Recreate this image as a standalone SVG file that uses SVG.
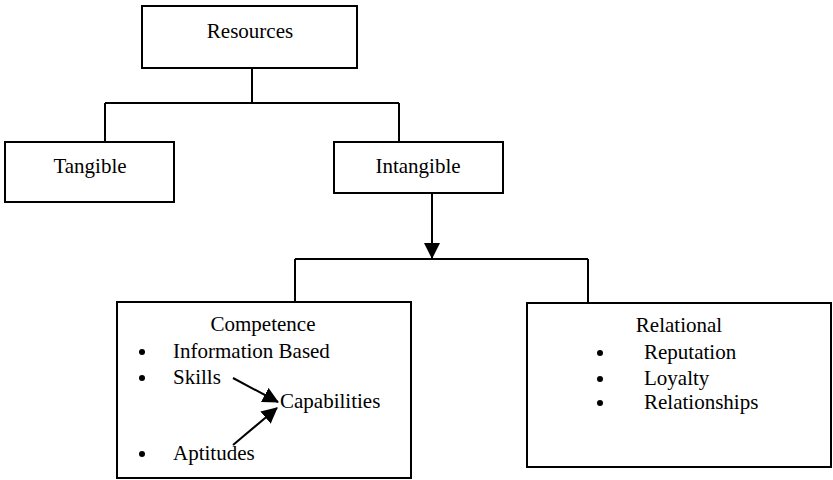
<svg xmlns="http://www.w3.org/2000/svg" width="833" height="480" viewBox="0 0 833 480">
  <style>
    .box { fill: #fff; stroke: #000; stroke-width: 2; }
    .ln { fill: none; stroke: #000; stroke-width: 2; }
    text { font-family: "Liberation Serif", "Times New Roman", serif; font-size: 21px; fill: #000; }
    .c { text-anchor: middle; }
  </style>
  <defs>
    <marker id="headBig" markerWidth="16" markerHeight="16" refX="15" refY="8" orient="auto" markerUnits="userSpaceOnUse" viewBox="0 0 16 16">
      <path d="M0,0 L16,8 L0,16 Z" fill="#000"/>
    </marker>
  </defs>

  <g id="connectors">
    <path class="ln" d="M252,68 V103 M105,103 H399 M105,103 V142 M399,103 V142"/>
    <path class="ln" d="M432,193 V258" marker-end="url(#headBig)"/>
    <path class="ln" d="M295,259 H588 M295,259 V302 M588,259 V303"/>
  </g>

  <g id="resources">
    <rect class="box" x="142" y="6" width="215" height="62"/>
    <text class="c" x="250" y="38">Resources</text>
  </g>

  <g id="tangible">
    <rect class="box" x="5" y="142" width="169" height="60"/>
    <text class="c" x="90" y="173">Tangible</text>
  </g>

  <g id="intangible">
    <rect class="box" x="334" y="142" width="169" height="51"/>
    <text class="c" x="418" y="173">Intangible</text>
  </g>

  <g id="competence">
    <rect class="box" x="117" y="302" width="294" height="176"/>
    <text class="c" x="263" y="331">Competence</text>
    <circle cx="142" cy="352" r="3"/>
    <text x="173" y="358">Information Based</text>
    <circle cx="142" cy="378" r="3"/>
    <text x="173" y="384">Skills</text>
    <text x="280" y="408">Capabilities</text>
    <circle cx="142" cy="454" r="3"/>
    <text x="173" y="460">Aptitudes</text>
    <path class="ln" d="M233,378 L278,402" marker-end="url(#headBig)"/>
    <path class="ln" d="M233,445 L277,408" marker-end="url(#headBig)"/>
  </g>

  <g id="relational">
    <rect class="box" x="527" y="303" width="304" height="164"/>
    <text class="c" x="679" y="332">Relational</text>
    <circle cx="600" cy="353" r="3"/>
    <text x="644" y="359">Reputation</text>
    <circle cx="600" cy="379" r="3"/>
    <text x="644" y="385">Loyalty</text>
    <circle cx="600" cy="403" r="3"/>
    <text x="644" y="409">Relationships</text>
  </g>
</svg>
